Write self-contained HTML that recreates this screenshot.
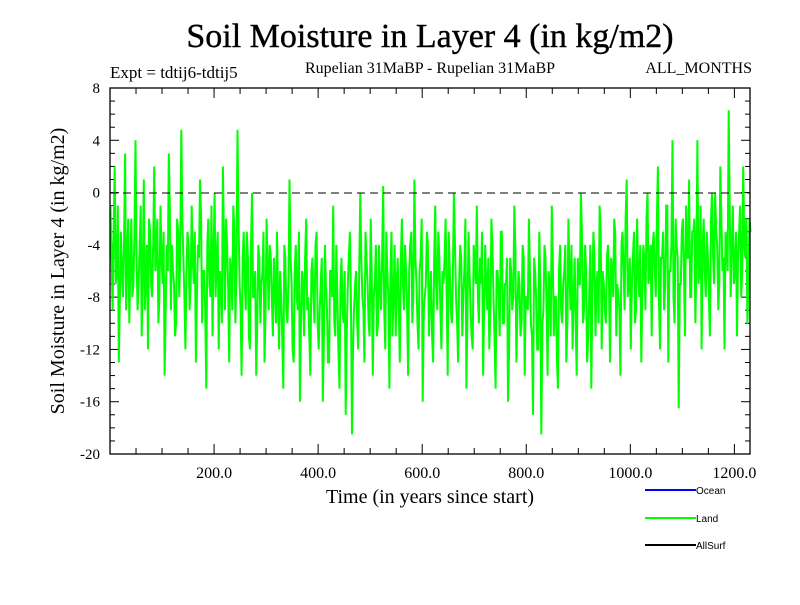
<!DOCTYPE html>
<html><head><meta charset="utf-8"><style>
body{margin:0;background:#fff;}
svg text{font-family:"Liberation Serif",serif;}
</style></head><body>
<svg id="chart" width="800" height="600" xmlns="http://www.w3.org/2000/svg">
<rect width="800" height="600" fill="#fff"/>
<text x="430" y="47" font-size="34" text-anchor="middle" stroke="#000" stroke-width="0.4">Soil Moisture in Layer 4 (in kg/m2)</text>
<text x="110" y="78" font-size="17">Expt = tdtij6-tdtij5</text>
<text x="430" y="73" font-size="16" text-anchor="middle">Rupelian  31MaBP - Rupelian  31MaBP</text>
<text x="752" y="73" font-size="16" text-anchor="end">ALL_MONTHS</text>
<text transform="translate(64,271) rotate(-90)" font-size="20" text-anchor="middle">Soil Moisture in Layer 4 (in kg/m2)</text>
<text x="430" y="503" font-size="20" text-anchor="middle">Time (in years since start)</text>
<g id="axes"></g>
<g id="series"></g>
<line x1="110" y1="193" x2="750" y2="193" stroke="#000" stroke-width="1" stroke-dasharray="8,5"/>
<rect x="110" y="88" width="640" height="366" fill="none" stroke="#000" stroke-width="1.3"/>
<g>
<line x1="645" y1="490" x2="696" y2="490" stroke="#0000ff" stroke-width="2"/>
<text x="696" y="494" font-size="10" style="font-family:'Liberation Sans',sans-serif">Ocean</text>
<line x1="645" y1="518" x2="696" y2="518" stroke="#00ff00" stroke-width="2"/>
<text x="696" y="522" font-size="10" style="font-family:'Liberation Sans',sans-serif">Land</text>
<line x1="645" y1="545" x2="696" y2="545" stroke="#000" stroke-width="2"/>
<text x="696" y="549" font-size="10" style="font-family:'Liberation Sans',sans-serif">AllSurf</text>
</g>
</svg>
<script>
const yTicks=[8,4,0,-4,-8,-12,-16,-20];
const xTicks=[200,400,600,800,1000,1200];
const xTickLabels=["200.0","400.0","600.0","800.0","1000.0","1200.0"];
const yearStep=2;
// even-sample values
const landValuesA=[
-1,-9,2,-6,-13,-3,-8,3,-5,-10,-2,-7,4,-9,-4,-11,1,-6,-12,-3,
-8,2,-5,-10,-1,-7,-14,-4,3,-9,-6,-11,-2,-8,4.8,-5,-12,-3,-9,-1,
-7,-13,-4,1,-10,-6,-15,-2,-8,-11,0,-5,-12,-7,2,-9,-4,-13,-6,-1,
-10,4.8,-7,-14,-3,-9,-5,-12,0,-8,-14,-4,-10,-6,-13,-2,-9,-5,-11,-7,
-3,-12,-8,-15,-5,-10,1,-7,-13,-4,-9,-16,-6,-11,-2,-8,-14,-5,-10,-3,
-12,-7,-16,-4,-9,-13,-6,-1,-11,-8,-15,-5,-10,-17,-7,-3,-18.5,-9,-6,-12,
0,-8,-13,-5,-10,-2,-14,-7,-11,-4,-9,0.5,-12,-6,-15,-3,-8,-11,-5,-13,
-2,-9,-6,-14,-4,-10,1,-7,-12,-5,-16,-8,-3,-11,-6,-13,-1,-9,-5,-12,
-7,-2,-14,-6,-10,0,-8,-13,-4,-11,-6,-15,-3,-9,-12,-5,-1,-10,-7,-14,
-4,-9,-12,-2,-8,-15,-6,-11,-3,-10,-7,-16,-5,-9,-1,-13,-6,-11,-4,-14,
-8,-2,-10,-17,-6,-12,-3,-18.5,-9,-5,-14,-7,-1,-11,-8,-15,-4,-10,-6,-13,
-2,-9,-12,-5,-14,-7,0,-10,-4,-13,-8,-15,-3,-11,-6,-1,-12,-7,-10,-4,
-13,-6,-2,-11,-8,-14,-3,-9,1,-7,-12,-5,-10,-2,-8,-13,-4,-9,0,-6,
-11,-3,-8,2,-12,-5,-9,-1,-13,-6,4,-10,-4,-16.5,-7,-2,-11,-5,1,-8,
-3,-10,4,-6,-12,-2,-8,-5,-11,0,-7,-3,-9,2,-6,-12,-4,6.3,-8,-1,
-6,-11,-3,-8,2,-5,-10,-2];
// odd-sample values
const landValuesB=[
-5,-3,-7,-1,-8,-6,-4,-9,-2,-6,-8,-3,-5,-7,-1,-6,-9,-4,-2,-7,
-4,-6,-2,-8,-5,-3,-9,-6,-1,-4,-7,-10,-3,-5,-2,-8,-6,-4,-7,-5,
-3,-8,-5,-2,-6,-9,-4,-7,-1,-5,-8,-3,-6,-10,-4,-2,-7,-5,-9,-3,
-6,-2,-9,-5,-7,-3,-11,-4,-8,-6,-10,-5,-7,-3,-9,-6,-4,-8,-5,-10,
-8,-6,-11,-4,-9,-7,-5,-12,-6,-8,-3,-10,-7,-5,-9,-11,-6,-8,-4,-10,
-9,-5,-11,-7,-13,-6,-8,-10,-4,-12,-7,-9,-6,-11,-5,-8,-12,-7,-10,-6,
-5,-9,-3,-7,-11,-6,-8,-4,-10,-7,-5,-9,-3,-8,-6,-11,-4,-7,-9,-5,
-7,-4,-9,-6,-3,-8,-5,-10,-6,-2,-9,-7,-4,-8,-11,-5,-7,-3,-9,-6,
-5,-8,-3,-9,-6,-4,-10,-7,-5,-8,-2,-9,-6,-11,-4,-7,-8,-5,-3,-9,
-7,-5,-9,-4,-11,-6,-8,-3,-10,-7,-5,-12,-6,-8,-4,-9,-7,-10,-5,-8,
-9,-6,-11,-5,-8,-12,-7,-10,-4,-9,-6,-11,-5,-8,-13,-6,-9,-7,-4,-10,
-6,-4,-8,-10,-5,-7,-3,-9,-6,-11,-4,-8,-5,-7,-10,-3,-6,-9,-5,-7,
-5,-8,-3,-7,-9,-4,-6,-2,-8,-5,-7,-3,-9,-6,-4,-8,-5,-2,-7,-4,
-4,-6,-2,-8,-5,-3,-7,-1,-6,-4,-8,-2,-5,-7,-3,-6,-1,-5,-8,-3,
-2,-5,-7,-1,-4,-6,-3,-8,-2,-5,0,-4,-7,-2,-5,-3,-6,-1,-4,-7,
-3,-5,-1,-6,-4,-2,-7,-3];
const NS="http://www.w3.org/2000/svg";
const X0=110,X1=750,Y0=88,Y1=454,XMIN=0,XMAX=1230,YMIN=-20,YMAX=8;
function xs(v){return X0+(v-XMIN)/(XMAX-XMIN)*(X1-X0);}
function ys(v){return Y1-(v-YMIN)/(YMAX-YMIN)*(Y1-Y0);}
const axes=document.getElementById('axes');
function ln(x1,y1,x2,y2,name){const l=document.createElementNS(NS,'line');
l.setAttribute('x1',x1);l.setAttribute('y1',y1);l.setAttribute('x2',x2);l.setAttribute('y2',y2);
l.setAttribute('stroke','#000');l.setAttribute('stroke-width','1');


axes.appendChild(l);}
for(let v=YMIN;v<=YMAX;v++){const major=(v%4===0);const L=major?9:5;const y=ys(v);
ln(X0,y,X0+L,y,'y-tick');ln(X1,y,X1-L,y,'y-tick');}
for(let v=50;v<XMAX;v+=50){const major=(v%200===0);const L=major?10:6;const x=xs(v);
ln(x,Y1,x,Y1-L,'x-tick');ln(x,Y0,x,Y0+L,'x-tick');}
yTicks.forEach(v=>{const t=document.createElementNS(NS,'text');t.setAttribute('x',X0-10);t.setAttribute('y',ys(v)+5);
t.setAttribute('text-anchor','end');t.setAttribute('font-size','15');t.textContent=v;


axes.appendChild(t);});
xTicks.forEach((v,i)=>{const t=document.createElementNS(NS,'text');t.setAttribute('x',xs(v));t.setAttribute('y',Y1+24);
t.setAttribute('text-anchor','middle');t.setAttribute('font-size','16');t.textContent=xTickLabels[i];


axes.appendChild(t);});
const landValues=[];
for(let i=0;i<landValuesA.length;i++){landValues.push(landValuesA[i]);if(i<landValuesB.length)landValues.push(landValuesB[i]);}
const pts=landValues.map((v,i)=>xs(i*yearStep+1).toFixed(1)+','+ys(v).toFixed(1)).join(' ');
const pl=document.createElementNS(NS,'polyline');
pl.setAttribute('points',pts);pl.setAttribute('fill','none');pl.setAttribute('stroke','#00ff00');pl.setAttribute('stroke-width','2');


document.getElementById('series').appendChild(pl);
</script>
</body></html>
